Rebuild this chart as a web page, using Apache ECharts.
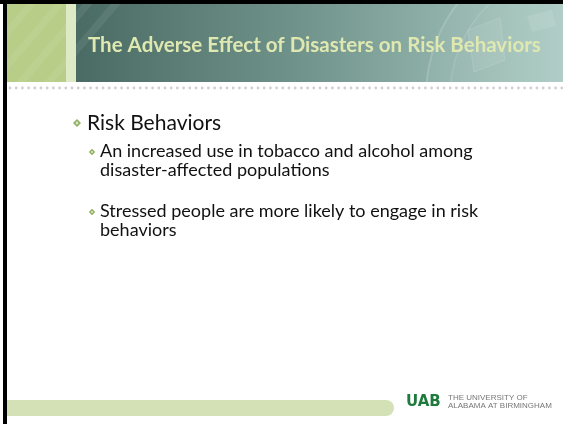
<!DOCTYPE html>
<html><head><meta charset="utf-8">
<script src="https://cdn.jsdelivr.net/npm/echarts@6/dist/echarts.min.js"></script>
<style>html,body{margin:0;padding:0;background:#fff}#c{width:563px;height:424px}</style>
</head><body><div id="c"></div>
<script>
var titleText = 'The Adverse Effect of Disasters on Risk Behaviors';
var mainBullets = ['Risk Behaviors'];
var subBullet1 = ['An increased use in tobacco and alcohol among', 'disaster-affected populations'];
var subBullet2 = ['Stressed people are more likely to engage in risk', 'behaviors'];
var logoLines = ['THE UNIVERSITY OF', 'ALABAMA AT BIRMINGHAM'];

var chart = echarts.init(document.getElementById('c'), null, {renderer: 'canvas'});
var g = [];
// header gradient
g.push({type:'rect', shape:{x:76,y:0,width:487,height:82}, z:1,
  style:{fill:new echarts.graphic.LinearGradient(0,0,1,0,[
    {offset:0,color:'#4a6b64'},{offset:0.45,color:'#6f928b'},{offset:1,color:'#a9cac2'}])}});
// seal watermark
g.push({type:'circle', shape:{cx:578,cy:96,r:152}, z:2, style:{fill:'rgba(255,255,255,0.05)',stroke:'rgba(255,255,255,0.16)',lineWidth:2}});
g.push({type:'circle', shape:{cx:578,cy:96,r:128}, z:2, style:{fill:'rgba(255,255,255,0.04)',stroke:'rgba(255,255,255,0.12)',lineWidth:1.5}});
g.push({type:'polygon', shape:{points:[[468,30],[500,18],[505,60],[474,72]]}, z:2, style:{fill:'rgba(255,255,255,0.07)',stroke:'rgba(255,255,255,0.12)',lineWidth:1}});
g.push({type:'polygon', shape:{points:[[527,16],[552,10],[556,26],[532,32]]}, z:2, style:{fill:'rgba(255,255,255,0.1)'}});
// white cover below header
g.push({type:'rect', shape:{x:0,y:82,width:563,height:342}, z:3, style:{fill:'#ffffff'}});
// green block
g.push({type:'rect', shape:{x:0,y:0,width:66,height:82}, z:4, style:{fill:'#b7cd88'}});
for (var s=0; s<4; s++) {
  g.push({type:'polygon', shape:{points:[[-40+s*28,82],[-30+s*28,82],[40+s*28,0],[30+s*28,0]]}, z:4, style:{fill:'rgba(255,255,255,0.07)'}});
}
g.push({type:'rect', shape:{x:66,y:0,width:10,height:82}, z:4, style:{fill:'#dee9c6'}});
// title
g.push({type:'text', z:6, style:{text:titleText, x:88, y:45, font:'bold 20.5px Lato', fill:'#dfe8b0', verticalAlign:'middle'}});
// dotted line
for (var dx=10; dx<563; dx+=6.2) {
  g.push({type:'circle', shape:{cx:dx,cy:88,r:1.4}, z:5, style:{fill:'#d3cdd3'}});
}
function diamond(cx, cy, r) {
  g.push({type:'polygon', shape:{points:[[cx,cy-r],[cx+r,cy],[cx,cy+r],[cx-r,cy]]}, z:6, style:{fill:'#8fb062'}});
  g.push({type:'circle', shape:{cx:cx,cy:cy,r:r*0.35}, z:7, style:{fill:'#d9e7c4'}});
}
// main bullet
diamond(77, 123, 4);
g.push({type:'text', z:6, style:{text:mainBullets[0], x:87, y:123, font:'21px Lato', fill:'#111111', verticalAlign:'middle'}});
diamond(92, 152, 3.2);
g.push({type:'text', z:6, style:{text:subBullet1[0], x:100, y:151, font:'18px Lato', fill:'#111111', verticalAlign:'middle'}});
g.push({type:'text', z:6, style:{text:subBullet1[1], x:100, y:170, font:'18px Lato', fill:'#111111', verticalAlign:'middle'}});
diamond(92, 212, 3.2);
g.push({type:'text', z:6, style:{text:subBullet2[0], x:100, y:211, font:'18px Lato', fill:'#111111', verticalAlign:'middle'}});
g.push({type:'text', z:6, style:{text:subBullet2[1], x:100, y:230, font:'18px Lato', fill:'#111111', verticalAlign:'middle'}});
// footer bar
g.push({type:'rect', shape:{x:0,y:400,width:394,height:16,r:[0,8,8,0]}, z:5, style:{fill:'#d4e1b7'}});
// logo
g.push({type:'text', z:6, style:{text:'UAB', x:406, y:402, font:'900 15px "DejaVu Sans"', fill:'#1f7a3e', verticalAlign:'middle'}});
g.push({type:'text', z:6, style:{text:logoLines[0], x:448, y:398, font:'8px "Liberation Sans"', fill:'#777777', verticalAlign:'middle'}});
g.push({type:'text', z:6, style:{text:logoLines[1], x:448, y:406, font:'8px "Liberation Sans"', fill:'#777777', verticalAlign:'middle'}});
// black borders
g.push({type:'rect', shape:{x:0,y:0,width:563,height:4}, z:10, style:{fill:'#000000'}});
g.push({type:'rect', shape:{x:3,y:0,width:4,height:424}, z:10, style:{fill:'#000000'}});
g.push({type:'rect', shape:{x:0,y:4,width:3,height:420}, z:10, style:{fill:'#ffffff'}});
chart.setOption({animation:false, graphic:{elements:g}});
</script></body></html>
